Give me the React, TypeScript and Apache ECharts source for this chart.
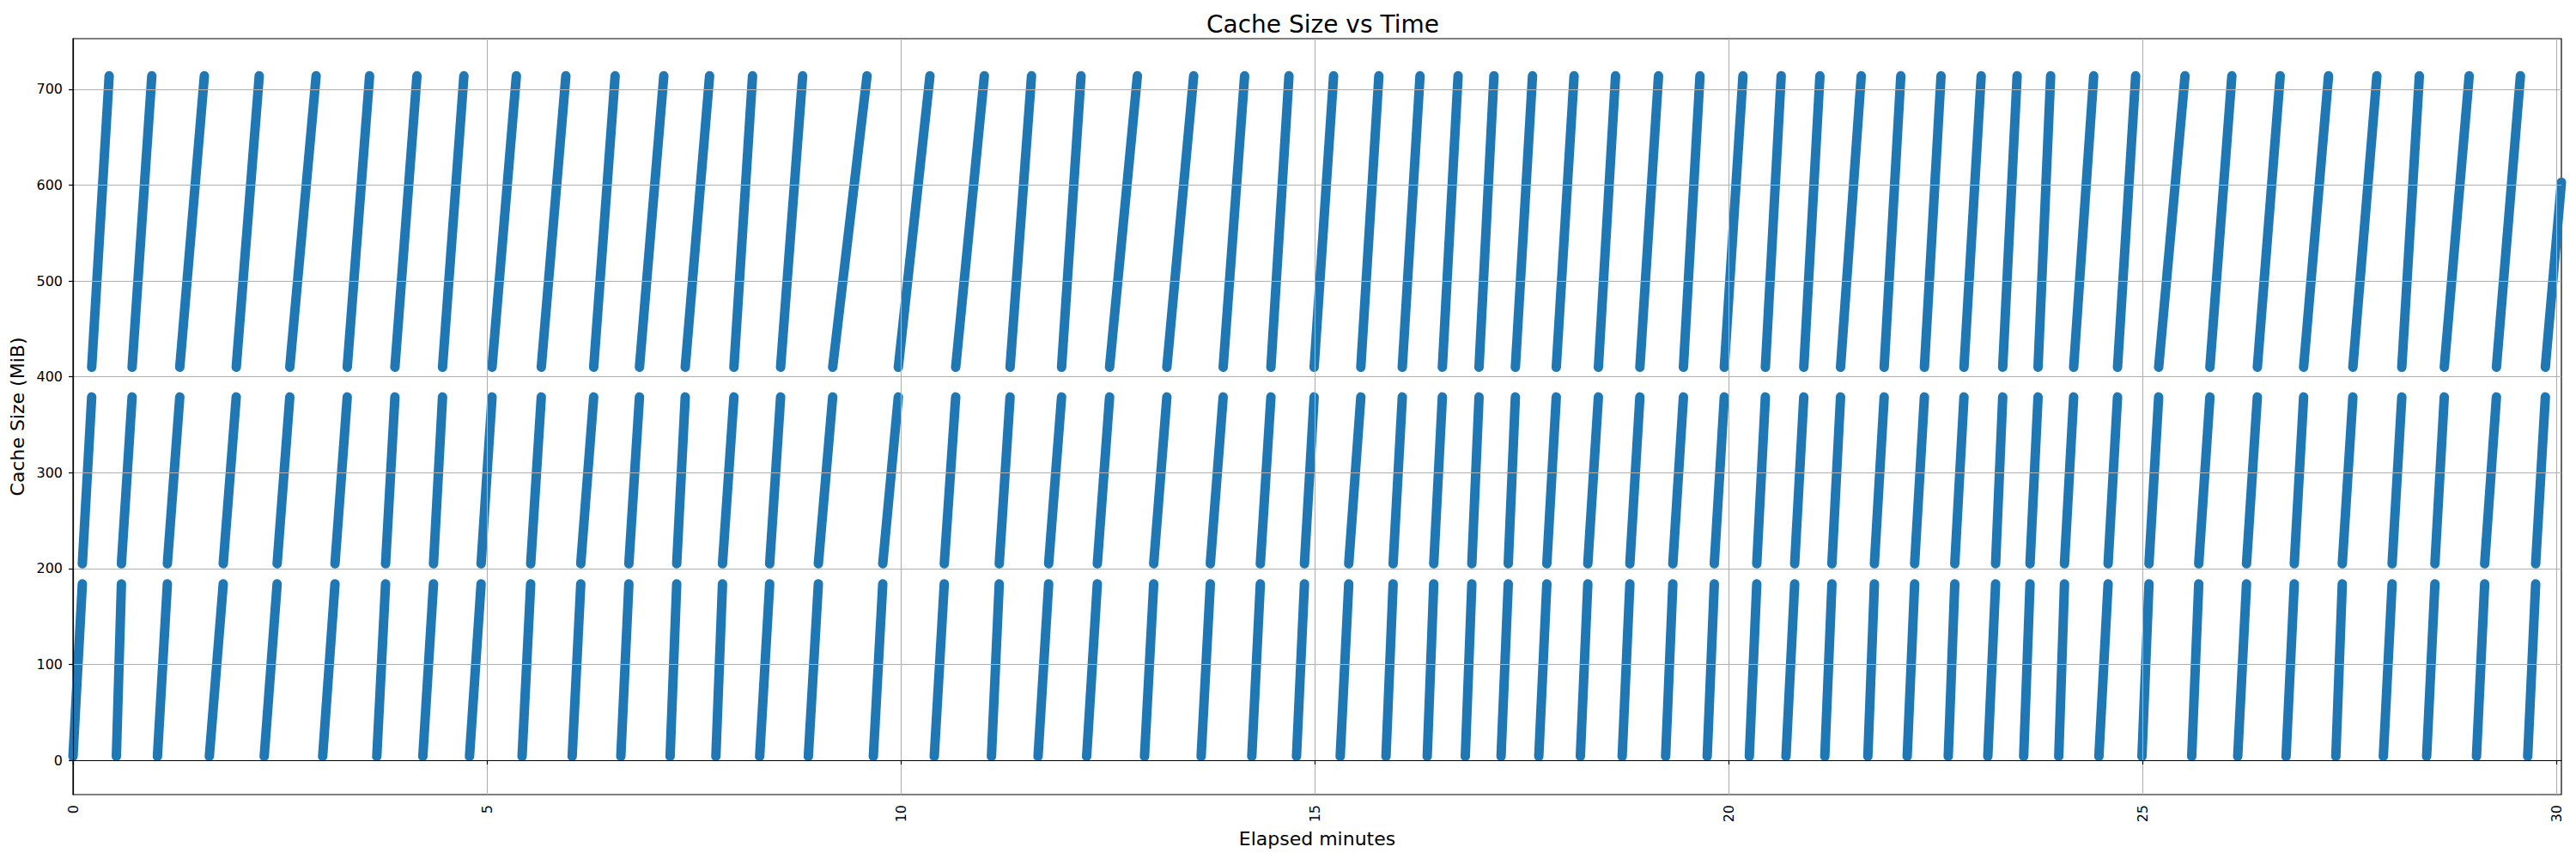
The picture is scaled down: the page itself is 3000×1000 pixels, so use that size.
import React, { useEffect, useRef } from "react";
import * as echarts from "echarts";

// Each fill cycle: cache grows through three bands (low, middle, high).
// Times in elapsed minutes.
const cycleStart = [
  0, 0.524, 1.02, 1.647, 2.31, 3.016, 3.67, 4.226, 4.79,
  5.425, 6.03, 6.618, 7.213, 7.766, 8.295, 8.883, 9.668,
  10.404, 11.095, 11.658, 12.245, 12.944, 13.628, 14.24, 14.78,
  15.308, 15.861, 16.359, 16.819, 17.251, 17.707, 18.209, 18.714, 19.239, 19.741,
  20.25, 20.693, 21.162, 21.682, 22.157, 22.653, 23.131, 23.564, 23.988, 24.473, 24.993,
  25.594, 26.15, 26.734, 27.335, 27.909, 28.432, 29.034, 29.653,
];
const lowToMid = [
  0.113, 0.585, 1.14, 1.815, 2.466, 3.165, 3.776, 4.355, 4.93,
  5.529, 6.134, 6.715, 7.293, 7.846, 8.416, 9.004, 9.782,
  10.525, 11.189, 11.786, 12.374, 13.055, 13.739, 14.343, 14.876,
  15.411, 15.947, 16.438, 16.898, 17.338, 17.804, 18.299, 18.807, 19.326, 19.827,
  20.34, 20.798, 21.248, 21.761, 22.247, 22.732, 23.225, 23.641, 24.057, 24.584, 25.078,
  25.679, 26.256, 26.833, 27.413, 28.015, 28.532, 29.133, 29.749,
];
const midToHigh = [
  0.226, 0.714, 1.29, 1.972, 2.619, 3.313, 3.889, 4.464, 5.062,
  5.657, 6.29, 6.843, 7.396, 7.984, 8.548, 9.177, 9.97,
  10.663, 11.32, 11.942, 12.522, 13.214, 13.894, 14.471, 14.993,
  15.557, 16.058, 16.542, 16.985, 17.424, 17.918, 18.427, 18.928, 19.454, 19.948,
  20.444, 20.908, 21.352, 21.879, 22.365, 22.843, 23.311, 23.738, 24.168, 24.698, 25.195,
  25.814, 26.387, 26.946, 27.541, 28.132, 28.645, 29.275, 29.866,
];
const cycleEnd = [
  0.437, 0.952, 1.587, 2.25, 2.937, 3.583, 4.155, 4.722, 5.356,
  5.954, 6.549, 7.137, 7.69, 8.209, 8.814, 9.592, 10.352,
  11.009, 11.579, 12.177, 12.858, 13.538, 14.153, 14.689, 15.228,
  15.775, 16.272, 16.732, 17.165, 17.631, 18.133, 18.634, 19.153, 19.654, 20.173,
  20.635, 21.103, 21.602, 22.08, 22.566, 23.051, 23.485, 23.89, 24.41, 24.917, 25.513,
  26.079, 26.663, 27.247, 27.831, 28.344, 28.946, 29.565, 30.06,
];
// Cache size (MiB) at the bottom and top of each band
const bandFloor = [4, 205, 410];
const bandCeiling = [184, 379, 714];
// The last cycle is still filling when the recording stops
const lastCycleTop = 603;

const xTicks = [0, 5, 10, 15, 20, 25, 30];
const yTicks = [0, 100, 200, 300, 400, 500, 600, 700];

const FONT = "DejaVu Sans";

export default function App() {
  const ref = useRef<HTMLDivElement>(null);

  useEffect(() => {
    const chart = echarts.init(ref.current as HTMLDivElement, null, { renderer: "svg" });

    const segments: any[] = [];
    const n = cycleStart.length;
    for (let i = 0; i < n; i++) {
      const topVal = i === n - 1 ? lastCycleTop : bandCeiling[2];
      segments.push({ coords: [[cycleStart[i], bandFloor[0]], [lowToMid[i], bandCeiling[0]]] });
      segments.push({ coords: [[lowToMid[i], bandFloor[1]], [midToHigh[i], bandCeiling[1]]] });
      segments.push({ coords: [[midToHigh[i], bandFloor[2]], [cycleEnd[i], topVal]] });
    }

    const isTick = (v: number, list: number[]) => list.some((t) => Math.abs(t - v) < 1e-6);

    chart.setOption({
      animation: false,
      backgroundColor: "#ffffff",
      title: {
        text: "Cache Size vs Time",
        left: 1400,
        top: 9,
        textStyle: { fontFamily: FONT, fontSize: 28, fontWeight: "normal", color: "#000" },
      },
      grid: {
        left: 85,
        right: 17,
        top: 45,
        bottom: 75,
        show: true,
        borderColor: "#000",
        borderWidth: 1.2,
        backgroundColor: "transparent",
      },
      xAxis: {
        type: "value",
        min: 0,
        max: 30.06,
        splitNumber: 6,
        z: 5,
        name: "Elapsed minutes",
        nameLocation: "middle",
        nameGap: 36,
        nameTextStyle: { fontFamily: FONT, fontSize: 22, color: "#000" },
        axisLine: { show: true, lineStyle: { color: "#000", width: 1.2 } },
        axisTick: { show: true, length: 5, customValues: xTicks, lineStyle: { color: "#000", width: 1.2 } },
        axisLabel: {
          rotate: 90,
          margin: 12,
          customValues: xTicks,
          fontFamily: FONT,
          fontSize: 16,
          color: "#000",
          formatter: (v: number) => (isTick(v, xTicks) ? String(Math.round(v)) : ""),
        },
        splitLine: { show: true, lineStyle: { color: "#b0b0b0", width: 1.1 } },
      },
      yAxis: {
        type: "value",
        min: -35.8,
        max: 752.8,
        splitNumber: 8,
        z: 5,
        name: "Cache Size (MiB)",
        nameLocation: "middle",
        nameGap: 49,
        nameTextStyle: { fontFamily: FONT, fontSize: 22, color: "#000" },
        axisLine: { show: true, lineStyle: { color: "#000", width: 1.2 } },
        axisTick: { show: true, length: 5, customValues: yTicks, lineStyle: { color: "#000", width: 1.2 } },
        axisLabel: {
          margin: 12,
          customValues: yTicks,
          fontFamily: FONT,
          fontSize: 16,
          color: "#000",
          formatter: (v: number) => (isTick(v, yTicks) ? String(Math.round(v)) : ""),
        },
        splitLine: { show: true, lineStyle: { color: "#b0b0b0", width: 1.1 } },
      },
      series: [
        {
          type: "lines",
          coordinateSystem: "cartesian2d",
          clip: true,
          z: 2,
          silent: true,
          lineStyle: { color: "#1f77b4", width: 11, cap: "round", opacity: 1, curveness: 0 },
          data: segments,
        },
      ],
    });

    return () => chart.dispose();
  }, []);

  return (
    <div
      ref={ref}
      style={{ position: "absolute", left: 0, top: 0, width: 3000, height: 1000, background: "#fff" }}
    />
  );
}
